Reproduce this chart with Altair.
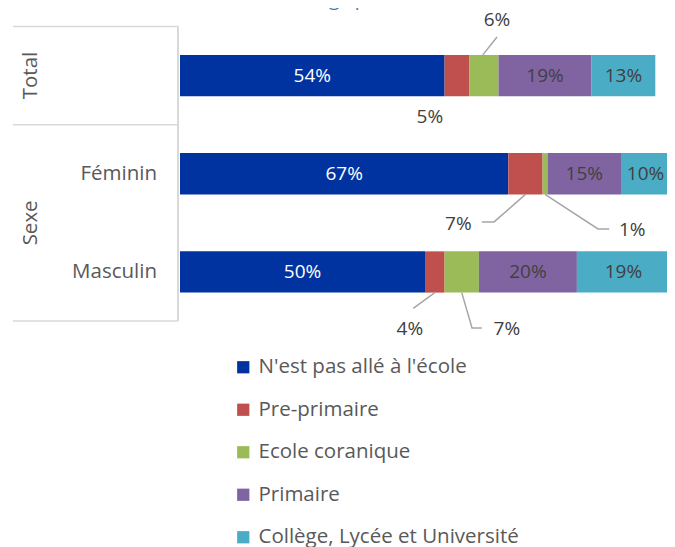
import altair as alt
import pandas as pd

# ---------------- data ----------------
categories = ["Total", "Féminin", "Masculin"]
groups = ["Total", "Sexe"]
levels = ["N'est pas allé à l'école", "Pre-primaire", "Ecole coranique",
          "Primaire", "Collège, Lycée et Université"]
total = [54, 5, 6, 19, 13]
feminin = [67, 7, 1, 15, 10]
masculin = [50, 4, 7, 20, 19]
colors = ["#0033A0", "#C0504D", "#9BBB59", "#8064A2", "#4BACC6"]
title_text = "Pourcentage par sexe"

# callouts for small segments: (category, level, label x, label y, leader path)
callouts = [
    ("Total", "Ecole coranique", 64.7, -0.065, [(61.8, 0.29), (64.7, 0.108)]),
    ("Total", "Pre-primaire", 51.0, 0.922, []),
    ("Féminin", "Pre-primaire", 56.8, 2.011, [(70.5, 1.71), (64.1, 1.99), (61.6, 1.99)]),
    ("Féminin", "Ecole coranique", 92.3, 2.072, [(74.5, 1.71), (85.3, 2.062), (87.6, 2.062)]),
    ("Masculin", "Pre-primaire", 46.9, 3.08, [(52.0, 2.71), (47.6, 2.87)]),
    ("Masculin", "Ecole coranique", 66.7, 3.08, [(57.5, 2.71), (59.6, 3.07), (61.6, 3.07)]),
]

# ---------------- tables ----------------
rows = []
for r, (cat, vals) in enumerate(zip(categories, [total, feminin, masculin])):
    start = 0
    for i, (lvl, v) in enumerate(zip(levels, vals)):
        rows.append(dict(cat=cat, row=r, level=lvl, idx=i, value=v,
                         start=start, end=start + v, mid=start + v / 2,
                         label=f"{v}%", top=r + 0.29, bot=r + 0.71, ymid=r + 0.5))
        start += v
df = pd.DataFrame(rows)
inside = df[df["value"] >= 10]

lab_rows, path_rows = [], []
for k, (cat, lvl, lx, ly, path) in enumerate(callouts):
    v = df[(df.cat == cat) & (df.level == lvl)]["value"].iloc[0]
    lab_rows.append(dict(x=lx, y=ly, label=f"{v}%"))
    for j, (px, py) in enumerate(path):
        path_rows.append(dict(cid=k, o=j, x=px, y=py))
labs = pd.DataFrame(lab_rows)
paths = pd.DataFrame(path_rows)

sub_labels = pd.DataFrame({"label": categories[1:], "y": [1.5, 2.5]})
grp_labels = pd.DataFrame({"label": groups, "y": [0.5, 2.0]})
frame = pd.DataFrame({"y": [0, 1, 3]})

xs = alt.Scale(domain=[0, 100], range=[172, 662], nice=False, zero=False)
ys = alt.Scale(domain=[0, 3], range=[18.4, 313.1], nice=False, zero=False)
FONT = "Open Sans"

bars = alt.Chart(df).mark_bar().encode(
    x=alt.X("start:Q", scale=xs, axis=None),
    x2="end:Q",
    y=alt.Y("top:Q", scale=ys, axis=None),
    y2="bot:Q",
    color=alt.Color("level:N", scale=alt.Scale(domain=levels, range=colors),
                    legend=alt.Legend(title=None, orient="none", legendX=225, legendY=349,
                                      direction="vertical", symbolType="square",
                                      symbolSize=150, symbolStrokeWidth=0,
                                      labelFontSize=20.5, labelFont=FONT,
                                      labelColor="#595959", labelOffset=5,
                                      rowPadding=21.5, padding=0, labelLimit=400)),
)

in_text = alt.Chart(inside).mark_text(fontSize=19, font=FONT, baseline="middle").encode(
    x=alt.X("mid:Q", scale=xs, axis=None),
    y=alt.Y("ymid:Q", scale=ys, axis=None),
    text="label:N",
    color=alt.condition(alt.datum.idx == 0, alt.value("white"), alt.value("#404040")),
)

leaders = alt.Chart(paths).mark_line(color="#A6A6A6", strokeWidth=1.5).encode(
    x=alt.X("x:Q", scale=xs, axis=None),
    y=alt.Y("y:Q", scale=ys, axis=None),
    detail="cid:N",
    order="o:Q",
)

out_text = alt.Chart(labs).mark_text(fontSize=19, font=FONT, color="#404040",
                                     baseline="middle").encode(
    x=alt.X("x:Q", scale=xs, axis=None),
    y=alt.Y("y:Q", scale=ys, axis=None),
    text="label:N",
)

hlines = alt.Chart(frame).mark_rule(color="#D9D9D9", strokeWidth=1.5).encode(
    x=alt.value(5), x2=alt.value(170),
    y=alt.Y("y:Q", scale=ys, axis=None),
)
vline = alt.Chart(frame).mark_rule(color="#D9D9D9", strokeWidth=1.5).encode(
    x=alt.value(170),
    y=alt.Y(datum=0, scale=ys, axis=None),
    y2=alt.Y2(datum=3),
)

sub_text = alt.Chart(sub_labels).mark_text(fontSize=20.5, font=FONT, color="#595959",
                                           align="right", baseline="middle").encode(
    x=alt.value(149),
    y=alt.Y("y:Q", scale=ys, axis=None),
    text="label:N",
)
grp_text = alt.Chart(grp_labels).mark_text(fontSize=20.5, font=FONT, color="#595959",
                                           align="center", baseline="middle",
                                           angle=270).encode(
    x=alt.value(22.5),
    y=alt.Y("y:Q", scale=ys, axis=None),
    text="label:N",
)

title = alt.Chart(pd.DataFrame({"t": [title_text]})).mark_text(
    fontSize=19, font=FONT, color="#4472C4", align="center", baseline="alphabetic"
).encode(x=alt.value(326), y=alt.value(-2), text="t:N")

chart = alt.layer(hlines, vline, bars, in_text, leaders, out_text, sub_text, grp_text, title).properties(
    width=659, height=539, autosize=alt.AutoSizeParams(type="none"), padding=0
).configure(font=FONT).configure_view(stroke=None)

chart.save("out.html", embed_options={"renderer": "svg", "actions": False})
